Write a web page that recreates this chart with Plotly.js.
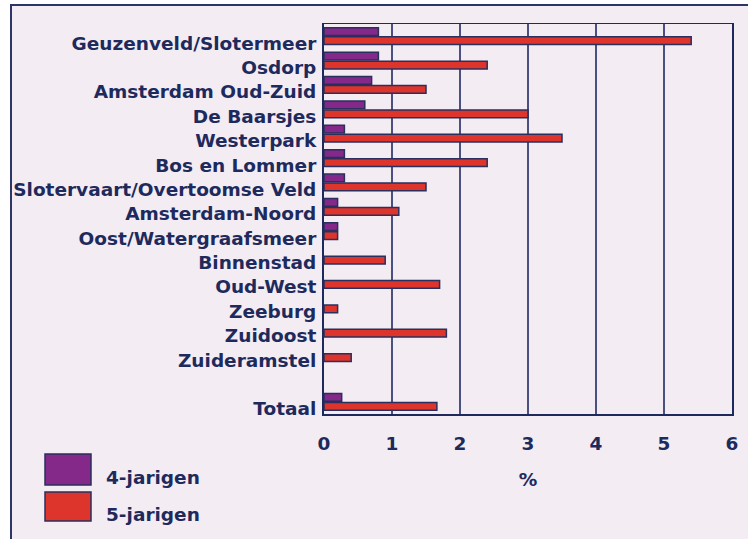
<!DOCTYPE html>
<html>
<head>
<meta charset="utf-8">
<script src="https://cdn.plot.ly/plotly-3.0.1.min.js"></script>
<style>
  html, body { margin: 0; padding: 0; background: #ffffff; }
  #frame { position: absolute; left: 10px; top: 4px; width: 760px; height: 560px;
           border-left: 2px solid #2b3566; border-top: 2px solid #2b3566; background: #f3ecf3; }
  #chart { position: absolute; left: 0; top: 0; width: 748px; height: 539px; }
</style>
</head>
<body>
<div id="frame"></div>
<div id="chart"></div>
<script>
// Data (% per stadsdeel); null = no bar drawn
var districts = ['Geuzenveld/Slotermeer', 'Osdorp', 'Amsterdam Oud-Zuid', 'De Baarsjes', 'Westerpark',
  'Bos en Lommer', 'Slotervaart/Overtoomse Veld', 'Amsterdam-Noord', 'Oost/Watergraafsmeer',
  'Binnenstad', 'Oud-West', 'Zeeburg', 'Zuidoost', 'Zuideramstel', ' ', 'Totaal'];
var fourYear = [0.8, 0.8, 0.7, 0.6, 0.3, 0.3, 0.3, 0.2, 0.2, null, null, null, null, null, null, 0.26];
var fiveYear = [5.4, 2.4, 1.5, 3.0, 3.5, 2.4, 1.5, 1.1, 0.2, 0.9, 1.7, 0.2, 1.8, 0.4, null, 1.66];
var seriesNames = ['4-jarigen', '5-jarigen'];
var seriesColors = ['#84298a', '#dd352b'];
var xTicks = [0, 1, 2, 3, 4, 5, 6];
var xTitle = '%';

var navy = '#1e2a5c';
var font = {family: 'DejaVu Sans', size: 18.5, color: navy, weight: 'bold'};

var traces = [fourYear, fiveYear].map(function (vals, i) {
  return {
    type: 'bar', orientation: 'h', name: seriesNames[i],
    x: vals, y: districts,
    marker: {color: seriesColors[i], line: {color: '#2a2f5e', width: 1.5}},
    hoverinfo: 'x+y'
  };
});

// Custom legend (large swatches) in paper coords
var shapes = [], annotations = [];
var legendRows = [[454, 485, 477.5], [492, 521, 514]];
function px2x(p) { return (p - 324) / 408; }
function py2y(p) { return (414 - p) / 390; }
seriesNames.forEach(function (n, i) {
  var r = legendRows[i];
  shapes.push({type: 'rect', xref: 'paper', yref: 'paper',
    x0: px2x(45), x1: px2x(91), y0: py2y(r[0]), y1: py2y(r[1]),
    fillcolor: seriesColors[i], line: {color: '#2a2f5e', width: 1.5}});
  annotations.push({xref: 'paper', yref: 'paper', x: px2x(104), y: py2y(r[2]),
    xanchor: 'left', yanchor: 'middle', showarrow: false, text: n, font: font});
});

var layout = {
  width: 748, height: 539,
  margin: {l: 324, r: 16, t: 24, b: 125},
  paper_bgcolor: 'rgba(0,0,0,0)', plot_bgcolor: 'rgba(0,0,0,0)',
  barmode: 'group', bargap: 0.26, bargroupgap: 0.15,
  showlegend: false,
  font: font,
  xaxis: {
    range: [0, 6], tickvals: xTicks, ticktext: xTicks.map(String),
    showgrid: true, gridcolor: '#4a5080', gridwidth: 1.5,
    showline: true, linecolor: navy, linewidth: 1.5, mirror: true,
    ticks: 'outside', ticklen: 12, tickcolor: 'rgba(0,0,0,0)',
    zeroline: false, tickfont: font,
    title: {text: xTitle, font: font, standoff: 20}
  },
  yaxis: {
    type: 'category', categoryorder: 'array', categoryarray: districts,
    autorange: 'reversed',
    showline: true, linecolor: navy, linewidth: 2, mirror: true,
    showgrid: false, zeroline: false,
    ticks: 'outside', ticklen: 2, tickcolor: 'rgba(0,0,0,0)',
    tickfont: font, ticklabelshift: -7
  },
  shapes: shapes, annotations: annotations
};

Plotly.newPlot('chart', traces, layout, {displayModeBar: false, staticPlot: true});
</script>
</body>
</html>
